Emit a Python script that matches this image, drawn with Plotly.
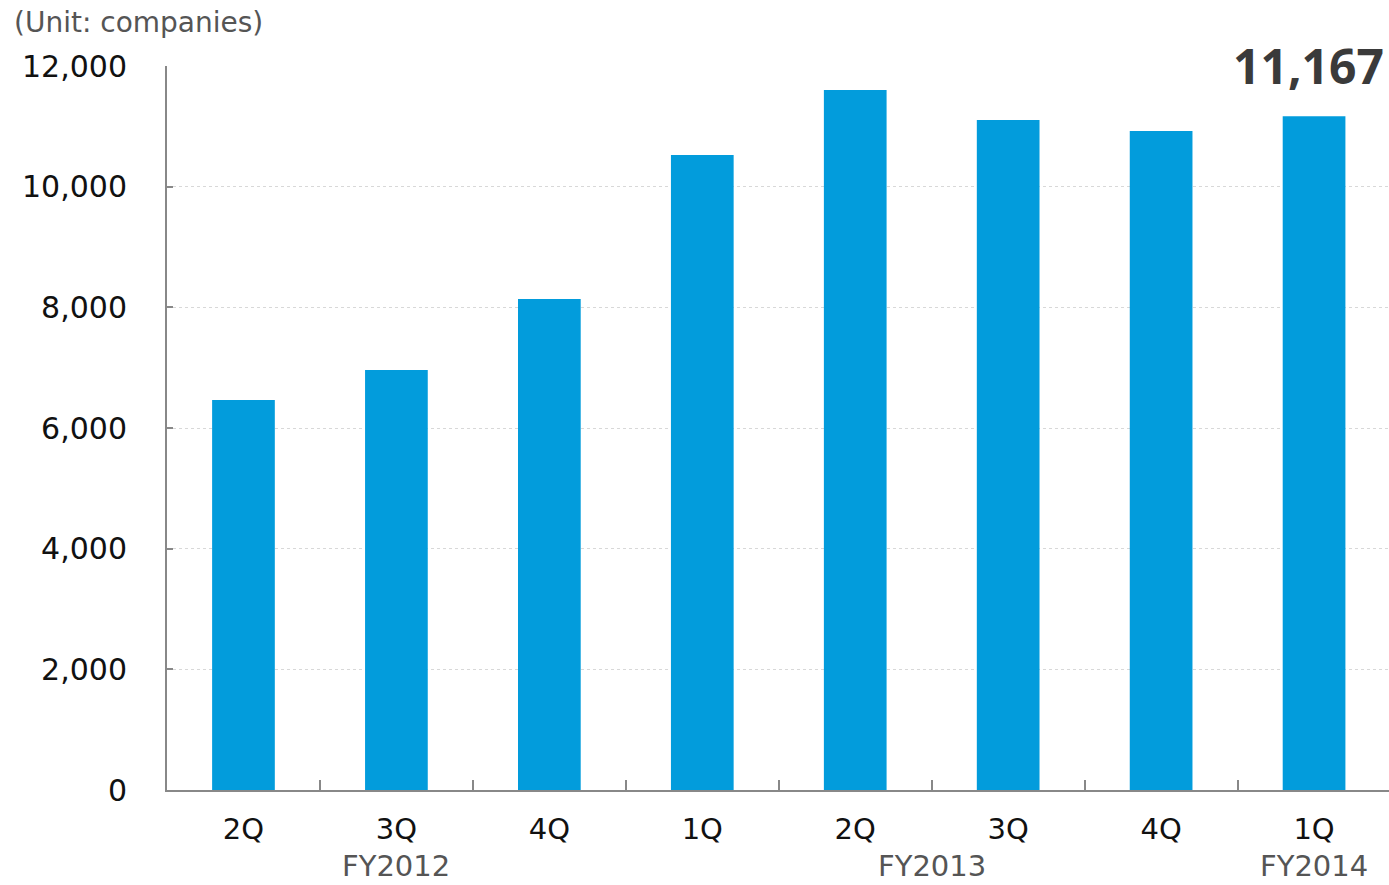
import plotly.graph_objects as go

categories = ["2Q", "3Q", "4Q", "1Q", "2Q", "3Q", "4Q", "1Q"]
values = [6464, 6962, 8138, 10525, 11603, 11105, 10923, 11167]
fiscal_years = ["FY2012", "FY2013", "FY2014"]
fy_centers = [1, 4.5, 7]
y_ticks = [0, 2000, 4000, 6000, 8000, 10000, 12000]
y_tick_labels = ["0", "2,000", "4,000", "6,000", "8,000", "10,000", "12,000"]
highlight_label = "11,167"

x_idx = list(range(len(categories)))
boundaries = [i + 0.5 for i in x_idx[:-1]]
FONT = "DejaVu Sans"
XR = [-0.5, 7.49]

fig = go.Figure()
fig.add_trace(go.Bar(
    x=x_idx, y=values, width=0.41,
    marker=dict(color="#029CDC", line=dict(width=0)),
    hoverinfo="skip",
))
# invisible helper trace to activate the boundary tick axis
fig.add_trace(go.Scatter(x=[0], y=[0], xaxis="x2", mode="markers",
                         marker=dict(opacity=0), hoverinfo="skip"))

fig.update_layout(
    width=1389, height=885,
    margin=dict(l=167, r=0, t=66, b=95),
    paper_bgcolor="white", plot_bgcolor="white",
    showlegend=False,
    font=dict(family=FONT, color="#111"),
    xaxis=dict(
        range=XR, tickmode="array", tickvals=x_idx, ticktext=categories,
        ticks="", showline=True, linecolor="#888", linewidth=2,
        showgrid=False, zeroline=False,
        tickfont=dict(size=29, color="#111", family=FONT), ticklabelstandoff=12,
    ),
    xaxis2=dict(
        range=XR, overlaying="x", side="bottom", tickmode="array", tickvals=boundaries,
        ticks="inside", ticklen=10, tickwidth=1.5, tickcolor="#888",
        showticklabels=False, showline=False, showgrid=False, zeroline=False,
    ),
    yaxis=dict(
        range=[0, 12000], tickmode="array", tickvals=y_ticks, ticktext=y_tick_labels,
        ticks="inside", ticklen=6, tickwidth=1.5, tickcolor="#888",
        showline=True, linecolor="#888", linewidth=2,
        showgrid=True, gridcolor="#d8d8d8", griddash="dot", gridwidth=1, zeroline=False,
        tickfont=dict(size=30, color="#111", family=FONT), ticklabelstandoff=32,
    ),
)

for fy, c in zip(fiscal_years, fy_centers):
    fig.add_annotation(x=c, y=0, xref="x", yref="paper", yshift=-76,
                       text=fy, showarrow=False, yanchor="middle",
                       font=dict(size=29, color="#555", family=FONT))

fig.add_annotation(x=7, y=values[7], xref="x", yref="y", yshift=16, xshift=-6,
                   text="<b>" + highlight_label + "</b>", showarrow=False, yanchor="bottom",
                   font=dict(size=48, color="#3a3a3a", family="Noto Sans"))

fig.add_annotation(x=(12 - 167) / 1222, y=1 + (66 - 23) / 724, xref="paper", yref="paper",
                   text="(Unit: companies)", showarrow=False, xanchor="left", yanchor="middle",
                   font=dict(size=28, color="#555", family=FONT))

fig.write_html("out.html")
